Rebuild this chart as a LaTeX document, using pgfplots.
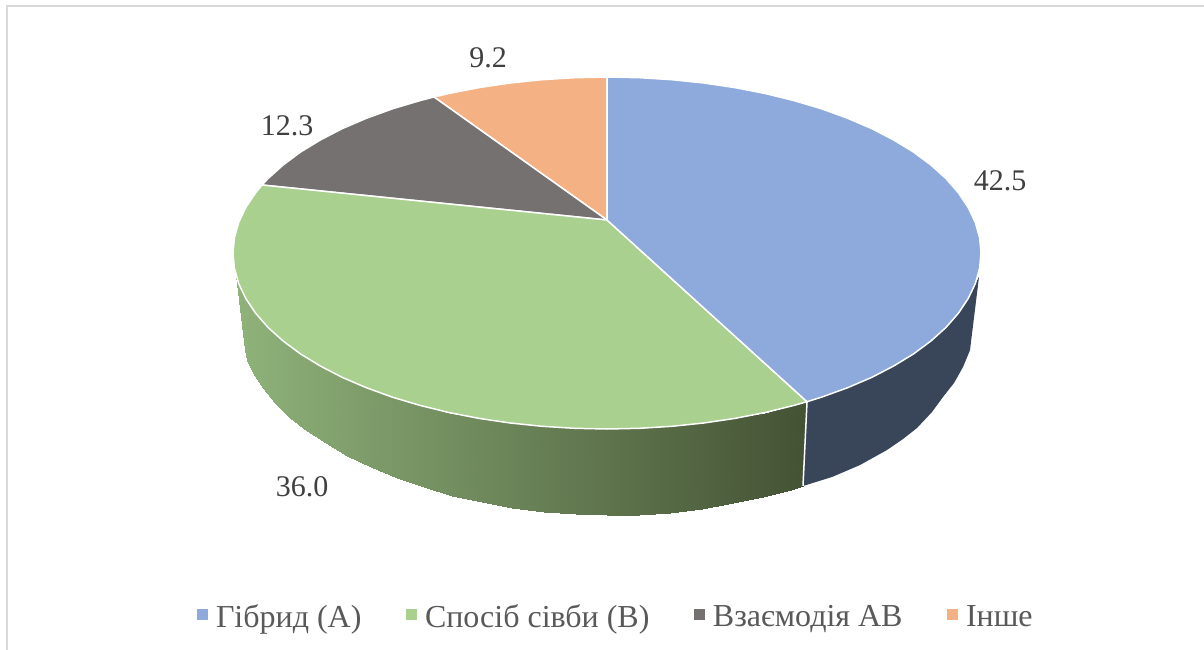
\documentclass[border=0pt]{standalone}
\usepackage{fontspec}
\setmainfont{Liberation Serif}
\usepackage{pgfplots}
\pgfplotsset{compat=1.18}
\definecolor{cblue}{HTML}{8EA9DB}
\definecolor{cgreen}{HTML}{A9D08E}
\definecolor{cgray}{HTML}{767171}
\definecolor{corange}{HTML}{F4B183}
\definecolor{wallblue}{HTML}{39465A}
\definecolor{frameg}{HTML}{D9D9D9}
\definecolor{labelc}{HTML}{404040}
\definecolor{legc}{HTML}{595959}
\begin{document}
\begin{tikzpicture}[x=1pt,y=1pt]
\begin{axis}[
  scale only axis, width=1204pt, height=650pt,
  xmin=0, xmax=1204, ymin=0, ymax=650, y dir=reverse,
  hide axis, clip=true,
  colormap={gw}{rgb255=(143,178,122) rgb255=(68,82,52)},
  point meta min=236, point meta max=807,
  legend columns=4,
  legend cell align=left,
  legend style={at={(axis cs:197,616.5)}, anchor=west, draw=none, fill=none,
    font=\fontsize{32}{34}\selectfont, text=legc, inner sep=0pt, outer sep=0pt,
    /tikz/every even column/.style={column sep=42.5pt}},
]
% background and frame
\addplot[draw=none, fill=white, forget plot] coordinates {(0,0)(1204,0)(1204,650)(0,650)} --cycle;
\addplot[draw=frameg, line width=2pt, forget plot] coordinates {(1204,6.5)(6.5,6.5)(6.5,650)};
% green wall
\addplot[patch, patch type=rectangle, shader=interp, point meta=x, forget plot] coordinates {
(236,274.5)(245,350)(247,360)(238.7,283.6)
(238.7,283.6)(247,360)(253,373)(245.8,298.5)
(245.8,298.5)(253,373)(263,388)(255.6,313.2)
(255.6,313.2)(263,388)(275,403)(268,327.4)
(268,327.4)(275,403)(290,418)(283.1,341)
(283.1,341)(290,418)(307,431)(300.6,354)
(300.6,354)(307,431)(326,443)(320.5,366.1)
(320.5,366.1)(326,443)(347,456)(342.5,377.5)
(342.5,377.5)(347,456)(371,467)(366.6,387.8)
(366.6,387.8)(371,467)(397,478)(392.5,397.2)
(392.5,397.2)(397,478)(424,487)(420,405.4)
(420,405.4)(424,487)(452,496)(448.9,412.5)
(448.9,412.5)(452,496)(482,502)(479.1,418.4)
(479.1,418.4)(482,502)(512,508)(510.2,423)
(510.2,423)(512,508)(544,512)(542.1,426.3)
(542.1,426.3)(544,512)(575.5,514)(574.4,428.3)
(574.4,428.3)(575.5,514)(607,515)(607,429)
(607,429)(607,515)(639,514.5)(639.6,428.3)
(639.6,428.3)(639,514.5)(670,513)(671.9,426.3)
(671.9,426.3)(670,513)(702,509)(703.8,423)
(703.8,423)(702,509)(733,503)(734.9,418.4)
(734.9,418.4)(733,503)(763,497)(765.1,412.5)
(765.1,412.5)(763,497)(791,490)(794,405.4)
(794,405.4)(791,490)(803,486)(807,401.7)
};
% blue wall
\addplot[draw=none, fill=wallblue, forget plot] coordinates {
(807,401.7)(821.5,397.2)(847.4,387.8)(871.5,377.5)(893.5,366.1)(913.4,354)(930.9,341)(946,327.4)(958.4,313.2)(968.2,298.5)(975.3,283.6)(979,277)
(970,350)(968,355)(963,367)(954,383)(943,397)(932,412)(917,428)(903,439)(887,450)(860,465)(832,477)(803,486)} --cycle;
\addplot[white, line width=1.5pt, forget plot] coordinates {(807,402)(803,486)};
% top face
\addplot[draw=white, line width=1.5pt, fill=corange, forget plot] coordinates {
(607,220)(434,97)(448.9,93.5)(479.1,87.6)(510.2,83)(542.1,79.7)(574.4,77.7)(607,77)} --cycle;
\addplot[draw=white, line width=1.5pt, fill=cgray, forget plot] coordinates {
(607,220)(262,185)(268,178.6)(283.1,165)(300.6,152)(320.5,139.9)(342.5,128.5)(366.6,118.2)(392.5,108.8)(420,100.6)(434,97)} --cycle;
\addplot[draw=white, line width=1.5pt, fill=cgreen, forget plot] coordinates {
(607,220)(807,401.7)(794,405.4)(765.1,412.5)(734.9,418.4)(703.8,423)(671.9,426.3)(639.6,428.3)(607,429)(574.4,428.3)(542.1,426.3)(510.2,423)(479.1,418.4)(448.9,412.5)(420,405.4)(392.5,397.2)(366.6,387.8)(342.5,377.5)(320.5,366.1)(300.6,354)(283.1,341)(268,327.4)(255.6,313.2)(245.8,298.5)(238.7,283.6)(234.4,268.3)(233,253)(234.4,237.7)(238.7,222.4)(245.8,207.5)(255.6,192.8)(262,185)} --cycle;
\addplot[draw=white, line width=1.5pt, fill=cblue, forget plot] coordinates {
(607,220)(607,77)(639.6,77.7)(671.9,79.7)(703.8,83)(734.9,87.6)(765.1,93.5)(794,100.6)(821.5,108.8)(847.4,118.2)(871.5,128.5)(893.5,139.9)(913.4,152)(930.9,165)(946,178.6)(958.4,192.8)(968.2,207.5)(975.3,222.4)(979.6,237.7)(981,253)(979.6,268.3)(975.3,283.6)(968.2,298.5)(958.4,313.2)(946,327.4)(930.9,341)(913.4,354)(893.5,366.1)(871.5,377.5)(847.4,387.8)(821.5,397.2)(807,401.7)} --cycle;
% legend
\pgfplotsset{legsq/.style={legend image code/.code={\fill[#1,draw=none] (0pt,-3.5pt) rectangle (11pt,7.5pt); \path[draw=none,fill=none] (0pt,0pt) -- (17pt,0pt);}}}
\addlegendimage{legsq=cblue}\addlegendentry{Гібрид (А)}
\addlegendimage{legsq=cgreen}\addlegendentry{Спосіб сівби (В)}
\addlegendimage{legsq=cgray}\addlegendentry{Взаємодія АВ}
\addlegendimage{legsq=corange}\addlegendentry{Інше}
% data labels
\node[text=labelc, font=\fontsize{30}{32}\selectfont] at (axis cs:1000,181) {42.5};
\node[text=labelc, font=\fontsize{30}{32}\selectfont] at (axis cs:302,487) {36.0};
\node[text=labelc, font=\fontsize{30}{32}\selectfont] at (axis cs:287,126) {12.3};
\node[text=labelc, font=\fontsize{30}{32}\selectfont] at (axis cs:488,58) {9.2};
\end{axis}
\end{tikzpicture}
\end{document}
